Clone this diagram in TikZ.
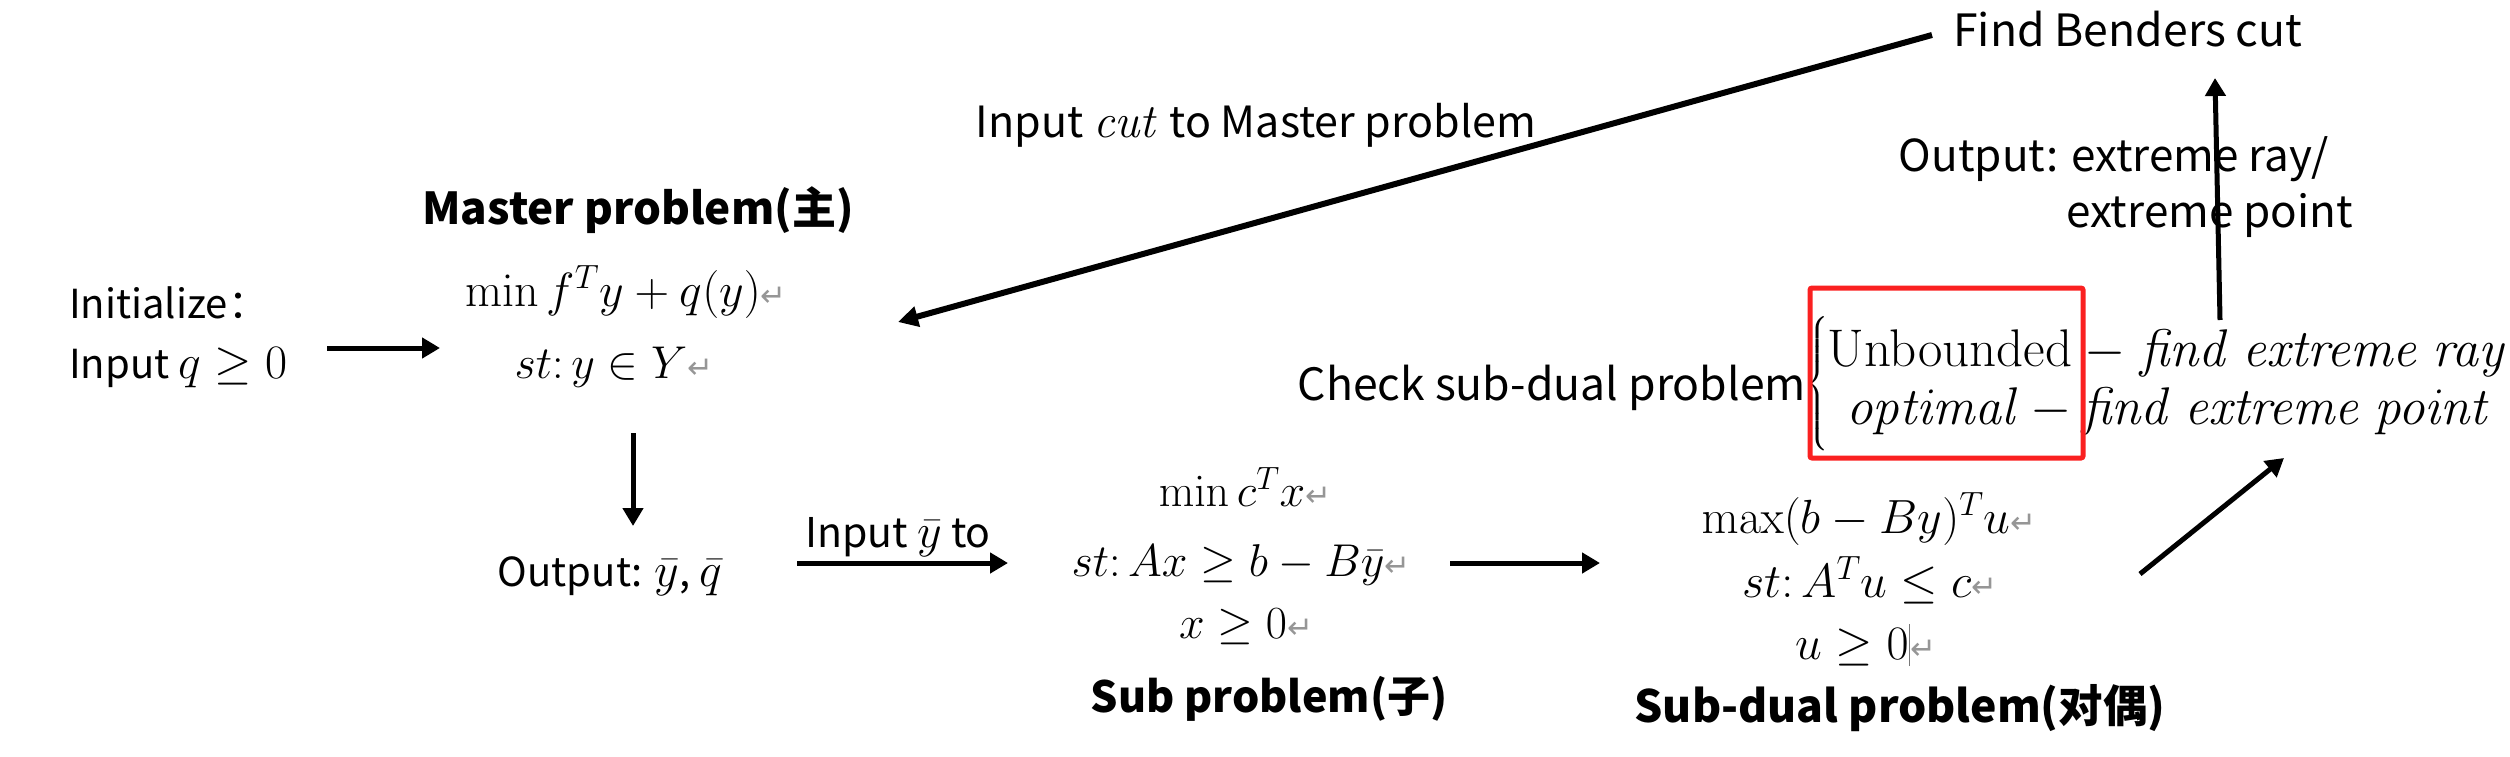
\documentclass[tikz,border=0pt]{standalone}
\usepackage{fix-cm}
\usepackage{amsmath}
\usepackage[no-math]{fontspec}
\setmainfont{Noto Sans CJK SC}
\newfontfamily\symf{DejaVu Sans}
\usetikzlibrary{arrows.meta}
\definecolor{retgray}{RGB}{150,150,150}
\definecolor{curgray}{RGB}{120,120,120}
\definecolor{boxred}{RGB}{250,32,32}
\newcommand{\ret}{{\symf\color{retgray}\fontsize{31}{34}\selectfont ↵}}
\newcommand{\curs}{{\color{curgray}\rule[-7pt]{1.5pt}{42pt}}}
\newcommand{\mth}[2]{{\fontsize{#1}{#1}\selectfont$#2$}}
\begin{document}
\begin{tikzpicture}[x=1pt,y=-1pt,
  every node/.style={inner sep=0pt, font=\fontsize{40}{48}\selectfont},
  fs/.style={font=\fontsize{#1}{#1}\selectfont},
  bold/.style={font=\fontsize{#1}{#1}\selectfont\bfseries},
  arr/.style={-{Triangle[length=18pt,width=20pt]}, line width=5pt},
  cutarr/.style={-{Triangle[length=20pt,width=20pt]}, line width=6pt},
  redbox/.style={draw=boxred, line width=5pt, rounded corners=2pt}]
\useasboundingbox (0,0) rectangle (2510,757);

% texts
\node[fs=44.5, anchor=base west] (fbc) at (1953,47) {Find Benders cut};
\node[fs=43, anchor=base] (icut) at (1256,138) {Input \mth{48}{\mathit{cut}} to Master problem};
\node[bold=44, anchor=base] (mp) at (638,224) {Master problem(主)};
\node[fs=48, anchor=base] (mobj) at (626,306) {$\min f^T y + q(y)$\ret};
\node[fs=46, anchor=base] (mst) at (614,378) {$st{:}\,y\in Y$\ret};
\node[fs=40, anchor=base west] (init) at (69,318) {Initialize：};
\node[fs=40, anchor=base west] (inq) at (69,378) {Input \mth{48}{q\geq 0}};
\node[fs=40, anchor=base] (out) at (610,586) {Output: \mth{48}{\bar y}, \mth{48}{\bar q}};
\node[fs=41, anchor=base] (iny) at (898,547) {Input \mth{48}{\bar y} to};
\node[fs=46, anchor=base] (sobj) at (1245,506) {$\min c^T x$\ret};
\node[fs=46, anchor=base] (sst) at (1241,576) {$st{:}\,Ax\geq b-B\bar y$\ret};
\node[fs=46, anchor=base] (snn) at (1246,638) {$x\geq 0$\ret};
\node[bold=43, anchor=base] (sp) at (1269,712) {Sub problem(子)};
\node[fs=48, anchor=base] (dobj) at (1869,533) {$\max(b-By)^T u$\ret};
\node[fs=48, anchor=base] (dst) at (1870,597) {$st{:}\,A^T u\leq c$\ret};
\node[fs=48, anchor=base] (dnn) at (1866,659) {$u\geq 0$\curs\ret};
\node[bold=44.5, anchor=base] (dp) at (1900,722) {Sub-dual problem(对偶)};
\node[fs=44.5, anchor=base east] (chk) at (1806,400) {Check sub-dual problem};
\node[fs=40, anchor=west] (br) at (1806,384) {$\left\{\vrule height 74pt depth 54pt width 0pt\right.$};
\node[fs=53, anchor=base] (r1a) at (1950,366) {$\mathrm{Unbounded}$};
\node[fs=53, anchor=base west] (r1b) at (2084,366) {${-}\;\mathit{find\ extreme\ ray}$};
\node[fs=53, anchor=base] (r2a) at (1933,424) {$\mathit{optimal}$};
\node[fs=53, anchor=base west] (r2m) at (2030,424) {${-}$};
\node[fs=53, anchor=base west] (r2b) at (2082,424) {$\mathit{find\ extreme\ point}$};
\node[redbox, minimum width=273pt, minimum height=170pt] (rb) at (1946.5,373) {};
\node[fs=44, anchor=base east] (oer) at (2329,171) {Output: extreme ray/};
\node[fs=44, anchor=base east] (oep) at (2353,227) {extreme point};

% connector ends
\coordinate (a1s) at (327,348); \coordinate (a1e) at (440,348);
\coordinate (a2s) at (633,433); \coordinate (a2e) at (633,526);
\coordinate (a3s) at (797,563); \coordinate (a3e) at (1008,563);
\coordinate (a4s) at (1450,563); \coordinate (a4e) at (1600,563);
\coordinate (a5s) at (2140,574); \coordinate (a5e) at (2284,458);
\coordinate (a6s) at (2220,320); \coordinate (a6e) at (2215,78);
\coordinate (a7s) at (1932,35); \coordinate (a7e) at (898,322);

\draw[arr] (a1s) -- (a1e);
\draw[arr] (a2s) -- (a2e);
\draw[arr] (a3s) -- (a3e);
\draw[arr] (a4s) -- (a4e);
\draw[arr] (a5s) -- (a5e);
\draw[arr] (a6s) -- (a6e);
\draw[cutarr] (a7s) -- (a7e);
\end{tikzpicture}
\end{document}
